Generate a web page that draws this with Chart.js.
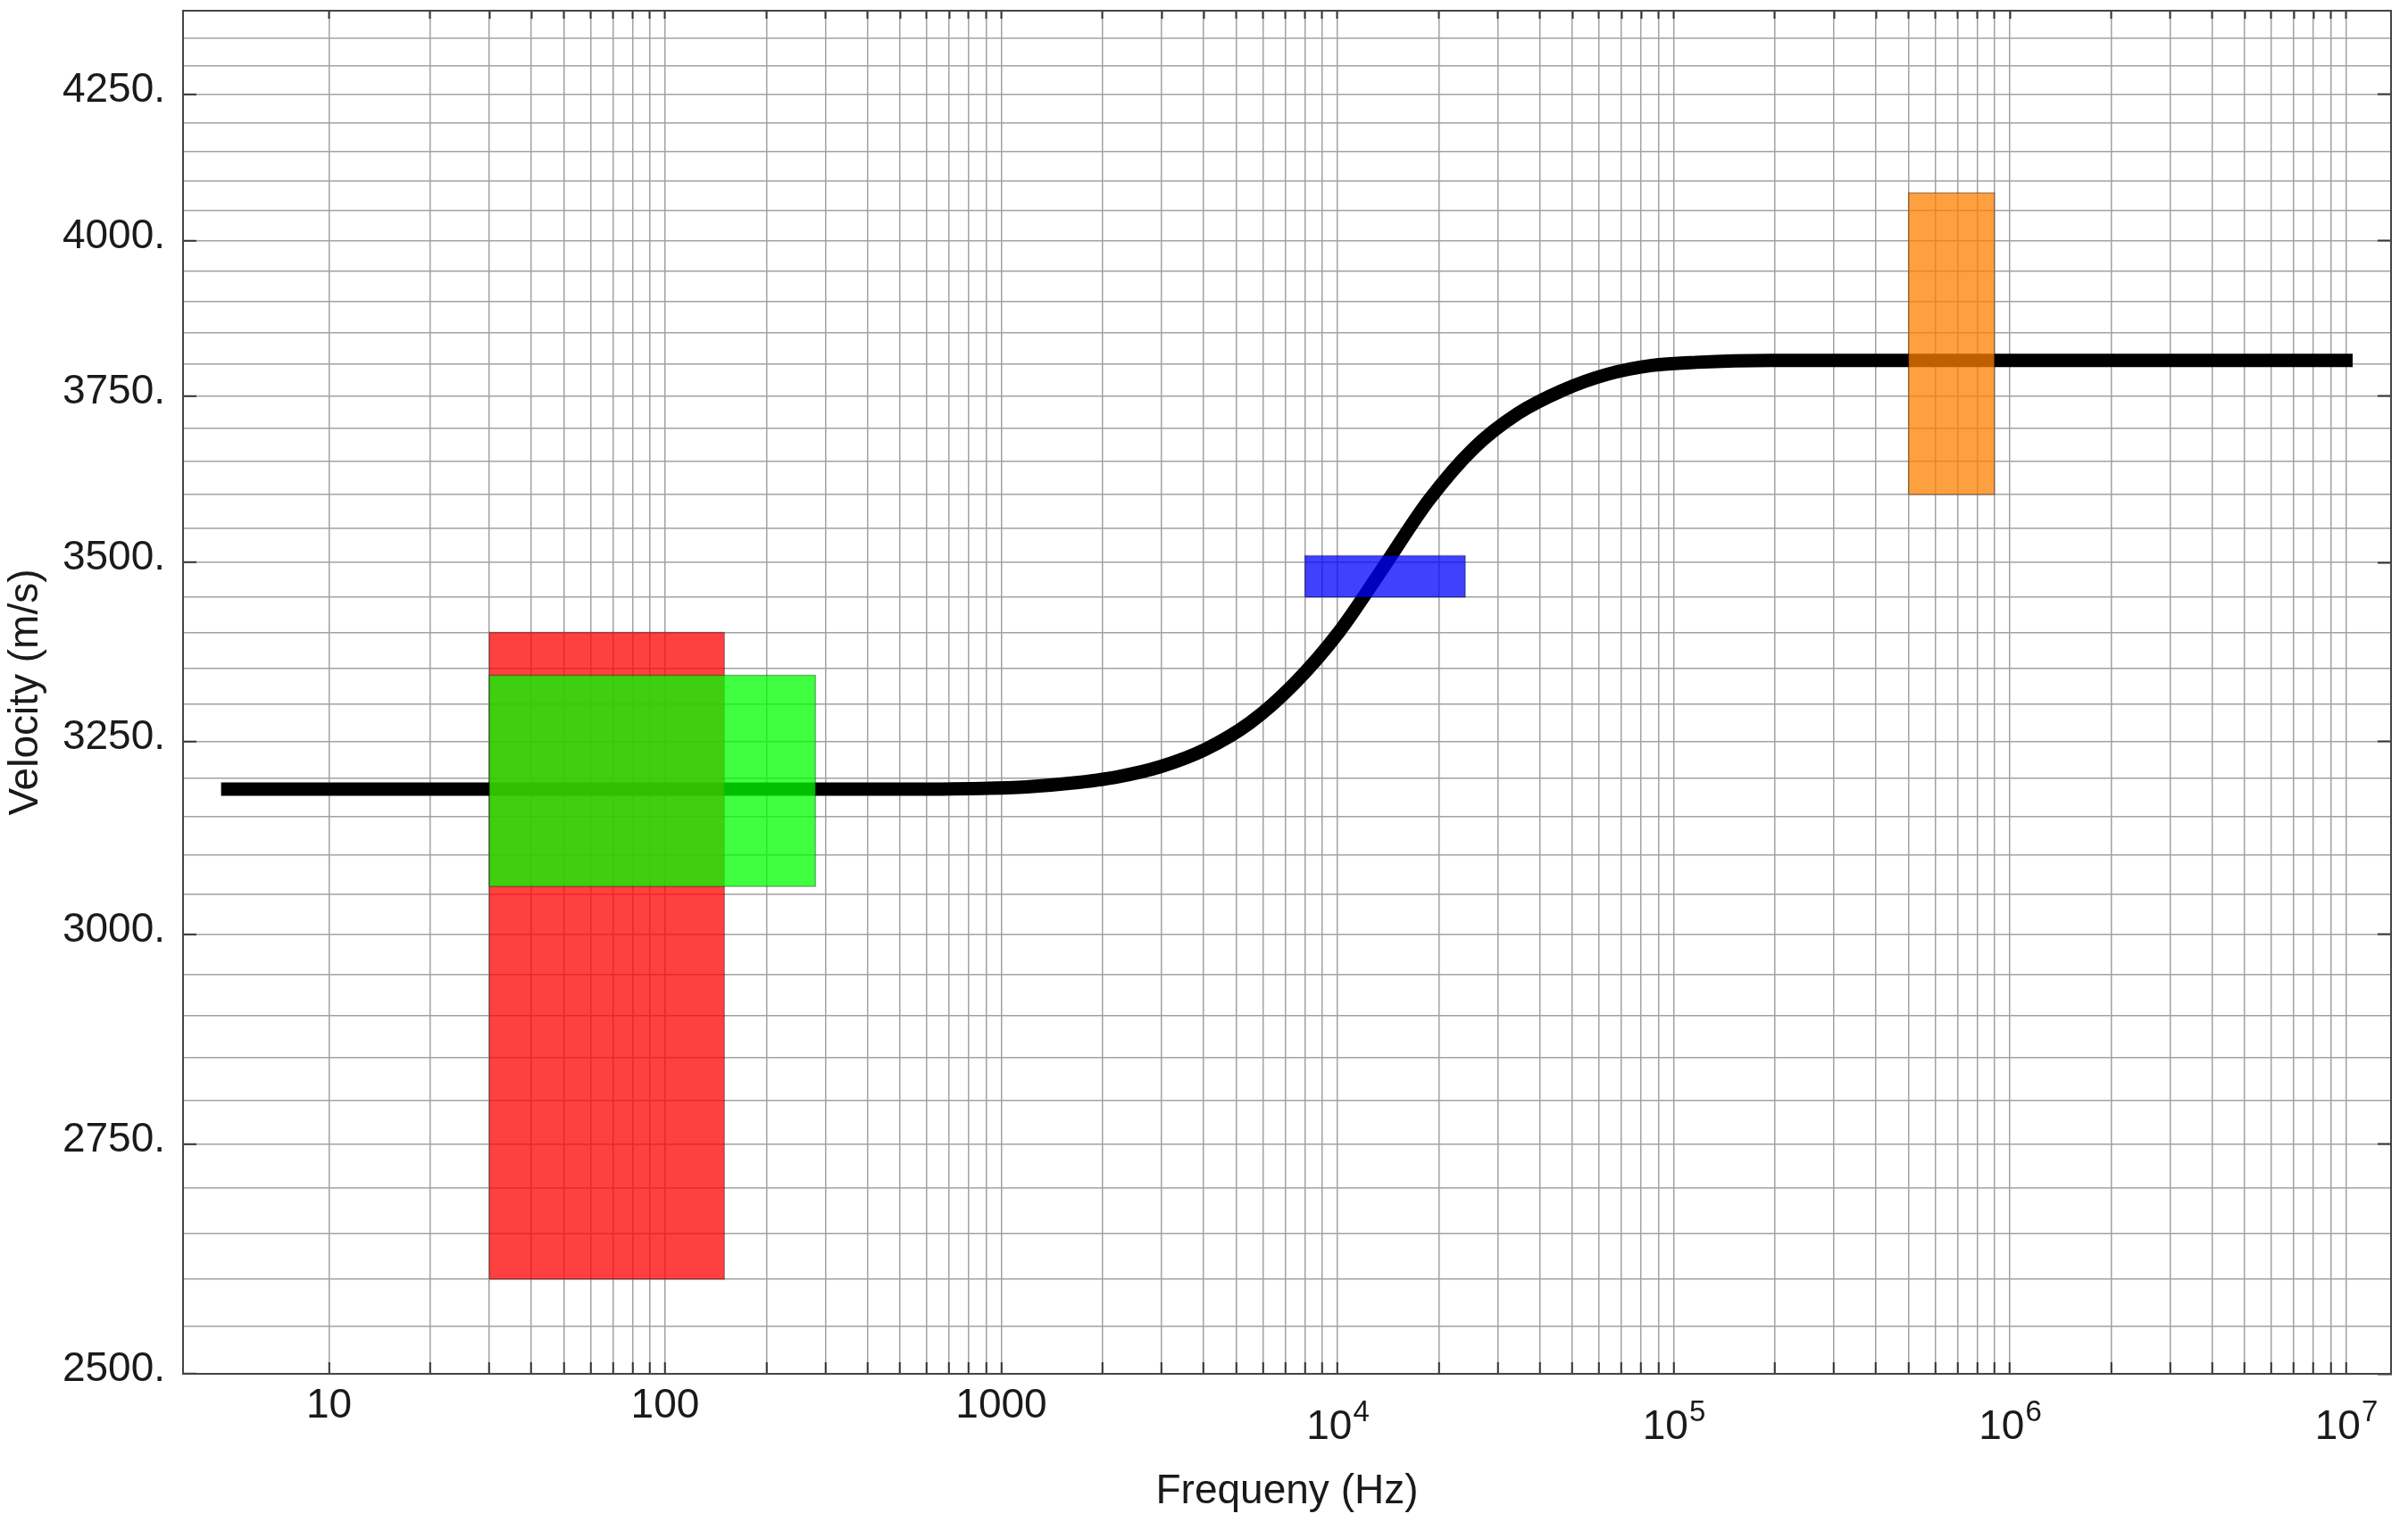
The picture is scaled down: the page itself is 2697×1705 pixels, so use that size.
<!DOCTYPE html>
<html>
<head>
<meta charset="utf-8">
<script src="https://cdn.jsdelivr.net/npm/chart.js@4.4.1/dist/chart.umd.min.js"></script>
<style>
 body { margin: 0; background: #fff; }
 canvas { display: block; }
</style>
</head>
<body>
<canvas id="dispersion" width="2697" height="1705"></canvas>
<script>
// velocity curve (Hz, m/s)
var curveFreq = [5, 100, 475, 877, 1191, 1616, 2194, 2980, 4045, 5492, 7456, 10122, 13742, 18656, 25328, 34385, 46680, 63375, 86040, 116800, 194200, 358000, 1e7];
var curveVel = [3186, 3186, 3186, 3187, 3189, 3194, 3202, 3216, 3239, 3275, 3329, 3401, 3494, 3591, 3669, 3723, 3759, 3784, 3798, 3803, 3806, 3806, 3806];

// measurement boxes: red, green, blue, orange
var boxFreqLow = [30, 30, 8000, 5e5];
var boxFreqHigh = [150, 280, 24000, 9e5];
var boxVelLow = [2600, 3060, 3450, 3600];
var boxVelHigh = [3400, 3340, 3510, 4080];
var boxColors = ['rgba(255,0,0,0.75)', 'rgba(0,255,0,0.75)', 'rgba(0,0,255,0.75)', 'rgba(255,128,0,0.75)'];

var xMajorTicks = [10, 100, 1000, 1e4, 1e5, 1e6, 1e7];
var xTickLabels = ['10', '100', '1000', '10', '10', '10', '10'];
var xExponents = ['', '', '', '4', '5', '6', '7'];
var yMajorTicks = [2500, 2750, 3000, 3250, 3500, 3750, 4000, 4250];
var yTickLabels = ['2500.', '2750.', '3000.', '3250.', '3500.', '3750.', '4000.', '4250.'];

var fam = "'Liberation Sans', Arial, sans-serif";
var font = { family: fam, size: 46 };
var textColor = '#1a1a1a';
var gridColor = '#a2a2a2';
var frameColor = '#444';

// 1..9 per decade
function xTicks() {
 var t = [];
 xMajorTicks.forEach(function(m, i) {
  t.push({ value: m, lbl: xExponents[i] ? '' : xTickLabels[i] });
  if (i < xMajorTicks.length - 1) {
   for (var k = 2; k <= 9; k++) t.push({ value: m * k, lbl: '' });
  }
 });
 return t;
}

// every 50 m/s, labels on the 250s
function yTicks() {
 var t = [];
 for (var v = 2500; v <= 4350; v += 50) {
  var i = yMajorTicks.indexOf(v);
  t.push({ value: v, lbl: i >= 0 ? yTickLabels[i] : '' });
 }
 return t;
}

function tickLabel(value, index, ticks) {
 return ticks[index].lbl;
}

function majorOnly(ctx) {
 return ctx.tick && ctx.tick.lbl ? '#333' : 'rgba(0,0,0,0)';
}

// 10^n labels: base digits plus a raised exponent
var powerLabels = {
 id: 'powerLabels',
 afterDraw: function(chart) {
  var s = chart.scales.x;
  var c = chart.ctx;
  c.save();
  c.fillStyle = textColor;
  c.textAlign = 'left';
  c.textBaseline = 'alphabetic';
  xExponents.forEach(function(e, i) {
   if (!e) return;
   var px = s.getPixelForValue(xMajorTicks[i]);
   c.font = '46px ' + fam;
   var wb = c.measureText(xTickLabels[i]).width;
   c.font = '33px ' + fam;
   var we = c.measureText(e).width;
   var x0 = px - (wb + we) / 2;
   c.font = '46px ' + fam;
   c.fillText(xTickLabels[i], x0, s.top + 73);
   c.font = '33px ' + fam;
   c.fillText(e, x0 + wb + 1, s.top + 53);
  });
  c.restore();
 }
};

var datasets = [];
boxColors.forEach(function(c, i) {
 datasets.push({
  data: [
   { x: boxFreqLow[i], y: boxVelLow[i] },
   { x: boxFreqLow[i], y: boxVelHigh[i] },
   { x: boxFreqHigh[i], y: boxVelHigh[i] },
   { x: boxFreqHigh[i], y: boxVelLow[i] },
   { x: boxFreqLow[i], y: boxVelLow[i] }
  ],
  showLine: true,
  fill: 'shape',
  backgroundColor: c,
  borderColor: 'rgba(0,0,0,0.3)',
  borderWidth: 1.5,
  pointRadius: 0,
  order: 4 - i
 });
});

datasets.push({
 data: curveFreq.map(function(f, i) { return { x: f, y: curveVel[i] }; }),
 showLine: true,
 fill: false,
 borderColor: '#000',
 borderWidth: 15,
 borderCapStyle: 'square',
 cubicInterpolationMode: 'monotone',
 pointRadius: 0,
 order: 5
});

function fitX(h) {
 return function(s) { s.height = h; s.paddingLeft = 0; s.paddingRight = 0; };
}
function fitY(w) {
 return function(s) { s.width = w; s.paddingTop = 0; s.paddingBottom = 0; };
}

var ctx = document.getElementById('dispersion').getContext('2d');

new Chart(ctx, {
 type: 'scatter',
 data: { datasets: datasets },
 plugins: [powerLabels],
 options: {
  responsive: false,
  animation: false,
  devicePixelRatio: 1,
  layout: { padding: { left: 0, right: 19, top: 12, bottom: 0 } },
  plugins: {
   legend: { display: false },
   tooltip: { enabled: false }
  },
  scales: {
   x: {
    type: 'logarithmic',
    position: 'bottom',
    min: 3.68,
    max: 1.3617e7,
    afterBuildTicks: function(s) { s.ticks = xTicks(); },
    afterFit: fitX(166),
    grid: { color: gridColor, lineWidth: 1.5, tickLength: -13, tickColor: '#333', tickWidth: 2 },
    border: { color: frameColor, width: 2 },
    ticks: { autoSkip: false, maxRotation: 0, padding: 22, font: font, color: textColor, callback: tickLabel },
    title: { display: true, text: 'Frequeny (Hz)', font: font, color: textColor, padding: { top: 0, bottom: 6 } }
   },
   x2: {
    type: 'logarithmic',
    position: 'top',
    min: 3.68,
    max: 1.3617e7,
    afterBuildTicks: function(s) { s.ticks = xTicks(); },
    afterFit: fitX(0),
    grid: { drawOnChartArea: false, tickLength: -9, tickColor: '#333', tickWidth: 2 },
    border: { color: frameColor, width: 2 },
    ticks: { display: false, autoSkip: false, callback: tickLabel }
   },
   y: {
    type: 'logarithmic',
    position: 'left',
    min: 2500,
    max: 4400,
    afterBuildTicks: function(s) { s.ticks = yTicks(); },
    afterFit: fitY(205),
    grid: { color: gridColor, lineWidth: 1.5, tickLength: -15, tickColor: majorOnly, tickWidth: 2 },
    border: { color: frameColor, width: 2 },
    ticks: { autoSkip: false, padding: 35, labelOffset: -4.5, font: font, color: textColor, callback: tickLabel },
    title: { display: true, text: 'Velocity (m/s)', font: font, color: textColor, padding: { top: 2, bottom: 0 } }
   },
   y2: {
    type: 'logarithmic',
    position: 'right',
    min: 2500,
    max: 4400,
    afterBuildTicks: function(s) { s.ticks = yTicks(); },
    afterFit: fitY(0),
    grid: { drawOnChartArea: false, tickLength: -15, tickColor: majorOnly, tickWidth: 2 },
    border: { color: frameColor, width: 2 },
    ticks: { display: false, autoSkip: false, callback: tickLabel }
   }
  }
 }
});
</script>
</body>
</html>
